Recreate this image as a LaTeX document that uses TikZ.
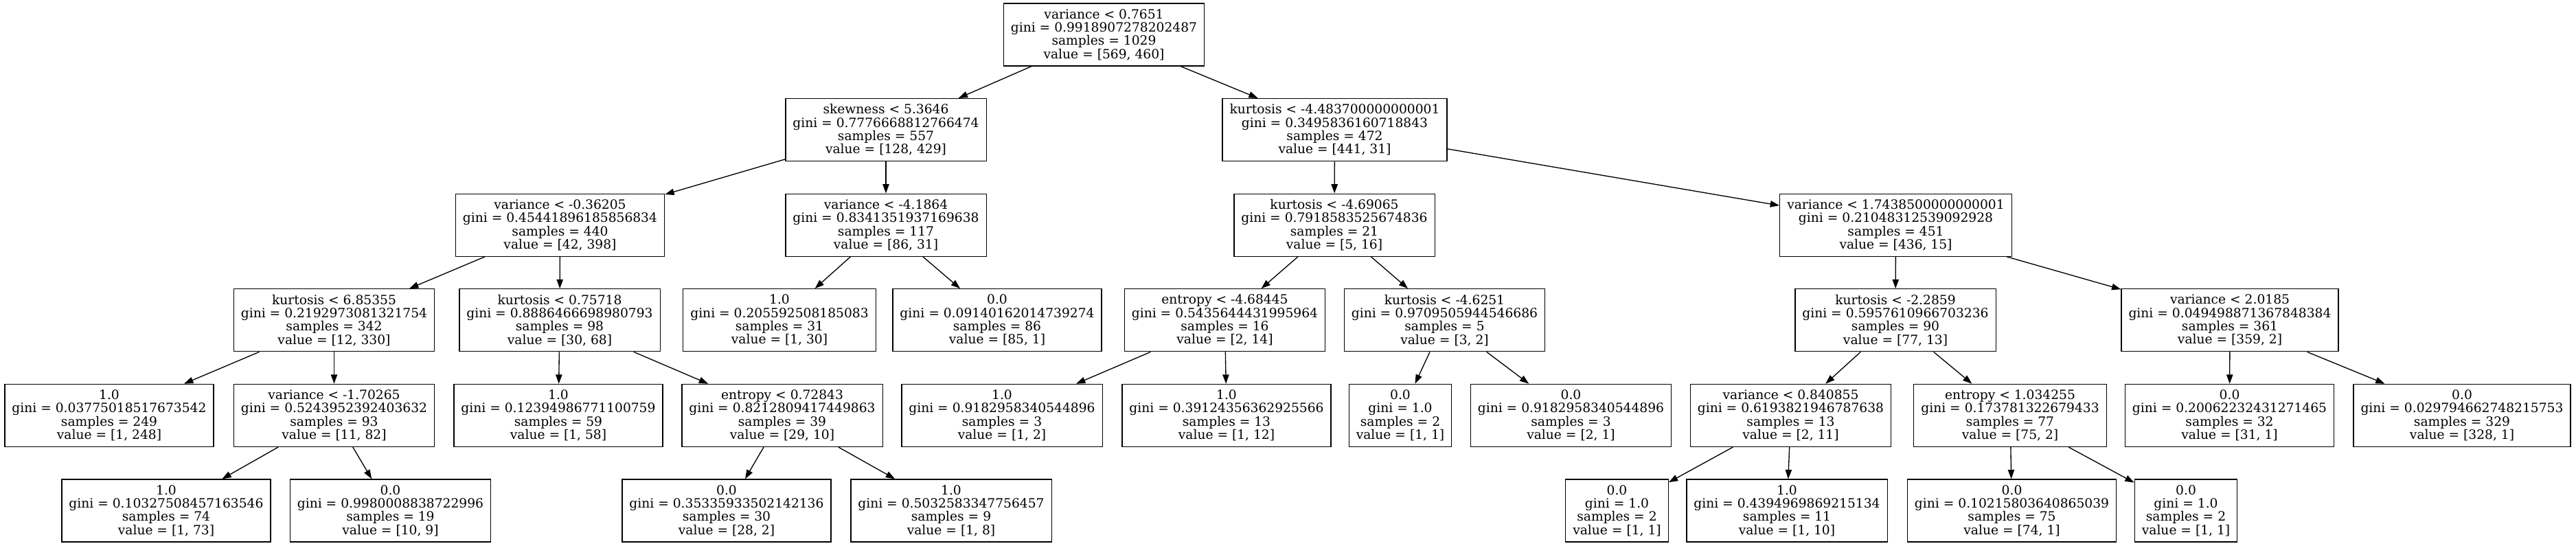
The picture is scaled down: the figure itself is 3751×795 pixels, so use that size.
\documentclass[tikz,border=0pt]{standalone}
\usepackage{fontspec}
\setmainfont{DejaVu Serif}
\usetikzlibrary{arrows.meta}

\begin{document}
\begin{tikzpicture}[x=0.75pt,y=-0.75pt]
% height of each node and distance between levels
\def\bh{68.25pt}
\def\dy{138.6}
\def\yo{50.5}
% node style definition
\tikzstyle{block} = [
	draw, rectangle, line width=1pt, align=center,
	inner xsep=7.9pt, inner ysep=0pt, minimum height=\bh,
	font=\fontsize{14}{14.5}\selectfont ];
\tikzstyle{link} = [line width=1pt, -{Triangle[length=10pt,width=7pt]}];
% page
\fill[white] (0,0) rectangle (3751,795);
\useasboundingbox (0,0) rectangle (3751,795);

% level 0
\node[block] (n0) at (1607.5, \yo+0*\dy) {variance < 0.7651\\gini = 0.9918907278202487\\samples = 1029\\value = [569, 460]};
% level 1
\node[block] (n1) at (1290, \yo+1*\dy) {skewness < 5.3646\\gini = 0.7776668812766474\\samples = 557\\value = [128, 429]};
\node[block] (n16) at (1943.5, \yo+1*\dy) {kurtosis < -4.483700000000001\\gini = 0.3495836160718843\\samples = 472\\value = [441, 31]};
% level 2
\node[block] (n2) at (815.5, \yo+2*\dy) {variance < -0.36205\\gini = 0.45441896185856834\\samples = 440\\value = [42, 398]};
\node[block] (n13) at (1290, \yo+2*\dy) {variance < -4.1864\\gini = 0.8341351937169638\\samples = 117\\value = [86, 31]};
\node[block] (n17) at (1943, \yo+2*\dy) {kurtosis < -4.69065\\gini = 0.7918583525674836\\samples = 21\\value = [5, 16]};
\node[block] (n24) at (2760.5, \yo+2*\dy) {variance < 1.7438500000000001\\gini = 0.21048312539092928\\samples = 451\\value = [436, 15]};
% level 3
\node[block] (n3) at (486.5, \yo+3*\dy) {kurtosis < 6.85355\\gini = 0.2192973081321754\\samples = 342\\value = [12, 330]};
\node[block] (n8) at (815, \yo+3*\dy) {kurtosis < 0.75718\\gini = 0.8886466698980793\\samples = 98\\value = [30, 68]};
\node[block] (n14) at (1135, \yo+3*\dy) {1.0\\gini = 0.205592508185083\\samples = 31\\value = [1, 30]};
\node[block] (n15) at (1452, \yo+3*\dy) {0.0\\gini = 0.09140162014739274\\samples = 86\\value = [85, 1]};
\node[block] (n18) at (1783.5, \yo+3*\dy) {entropy < -4.68445\\gini = 0.5435644431995964\\samples = 16\\value = [2, 14]};
\node[block] (n21) at (2103.5, \yo+3*\dy) {kurtosis < -4.6251\\gini = 0.9709505944546686\\samples = 5\\value = [3, 2]};
\node[block] (n25) at (2760, \yo+3*\dy) {kurtosis < -2.2859\\gini = 0.5957610966703236\\samples = 90\\value = [77, 13]};
\node[block] (n32) at (3247, \yo+3*\dy) {variance < 2.0185\\gini = 0.049498871367848384\\samples = 361\\value = [359, 2]};
% level 4
\node[block] (n4) at (159, \yo+4*\dy) {1.0\\gini = 0.03775018517673542\\samples = 249\\value = [1, 248]};
\node[block] (n5) at (486.5, \yo+4*\dy) {variance < -1.70265\\gini = 0.5243952392403632\\samples = 93\\value = [11, 82]};
\node[block] (n9) at (813, \yo+4*\dy) {1.0\\gini = 0.12394986771100759\\samples = 59\\value = [1, 58]};
\node[block] (n10) at (1139, \yo+4*\dy) {entropy < 0.72843\\gini = 0.8212809417449863\\samples = 39\\value = [29, 10]};
\node[block] (n19) at (1459, \yo+4*\dy) {1.0\\gini = 0.9182958340544896\\samples = 3\\value = [1, 2]};
\node[block] (n20) at (1786, \yo+4*\dy) {1.0\\gini = 0.39124356362925566\\samples = 13\\value = [1, 12]};
\node[block] (n22) at (2039, \yo+4*\dy) {0.0\\gini = 1.0\\samples = 2\\value = [1, 1]};
\node[block] (n23) at (2287.5, \yo+4*\dy) {0.0\\gini = 0.9182958340544896\\samples = 3\\value = [2, 1]};
\node[block] (n26) at (2607.5, \yo+4*\dy) {variance < 0.840855\\gini = 0.6193821946787638\\samples = 13\\value = [2, 11]};
\node[block] (n29) at (2927, \yo+4*\dy) {entropy < 1.034255\\gini = 0.173781322679433\\samples = 77\\value = [75, 2]};
\node[block] (n33) at (3246.5, \yo+4*\dy) {0.0\\gini = 0.20062232431271465\\samples = 32\\value = [31, 1]};
\node[block] (n34) at (3585, \yo+4*\dy) {0.0\\gini = 0.029794662748215753\\samples = 329\\value = [328, 1]};
% level 5
\node[block] (n6) at (242, \yo+5*\dy) {1.0\\gini = 0.10327508457163546\\samples = 74\\value = [1, 73]};
\node[block] (n7) at (568.5, \yo+5*\dy) {0.0\\gini = 0.9980008838722996\\samples = 19\\value = [10, 9]};
\node[block] (n11) at (1058, \yo+5*\dy) {0.0\\gini = 0.35335933502142136\\samples = 30\\value = [28, 2]};
\node[block] (n12) at (1385, \yo+5*\dy) {1.0\\gini = 0.5032583347756457\\samples = 9\\value = [1, 8]};
\node[block] (n27) at (2354.5, \yo+5*\dy) {0.0\\gini = 1.0\\samples = 2\\value = [1, 1]};
\node[block] (n28) at (2602, \yo+5*\dy) {1.0\\gini = 0.4394969869215134\\samples = 11\\value = [1, 10]};
\node[block] (n30) at (2929.5, \yo+5*\dy) {0.0\\gini = 0.10215803640865039\\samples = 75\\value = [74, 1]};
\node[block] (n31) at (3183, \yo+5*\dy) {0.0\\gini = 1.0\\samples = 2\\value = [1, 1]};

% edges
\draw[link] (n0) -- (n1);
\draw[link] (n0) -- (n16);
\draw[link] (n1) -- (n2);
\draw[link] (n1) -- (n13);
\draw[link] (n16) -- (n17);
\draw[link] (n16) -- (n24);
\draw[link] (n2) -- (n3);
\draw[link] (n2) -- (n8);
\draw[link] (n13) -- (n14);
\draw[link] (n13) -- (n15);
\draw[link] (n17) -- (n18);
\draw[link] (n17) -- (n21);
\draw[link] (n24) -- (n25);
\draw[link] (n24) -- (n32);
\draw[link] (n3) -- (n4);
\draw[link] (n3) -- (n5);
\draw[link] (n8) -- (n9);
\draw[link] (n8) -- (n10);
\draw[link] (n18) -- (n19);
\draw[link] (n18) -- (n20);
\draw[link] (n21) -- (n22);
\draw[link] (n21) -- (n23);
\draw[link] (n25) -- (n26);
\draw[link] (n25) -- (n29);
\draw[link] (n32) -- (n33);
\draw[link] (n32) -- (n34);
\draw[link] (n5) -- (n6);
\draw[link] (n5) -- (n7);
\draw[link] (n10) -- (n11);
\draw[link] (n10) -- (n12);
\draw[link] (n26) -- (n27);
\draw[link] (n26) -- (n28);
\draw[link] (n29) -- (n30);
\draw[link] (n29) -- (n31);

\end{tikzpicture}
\end{document}
